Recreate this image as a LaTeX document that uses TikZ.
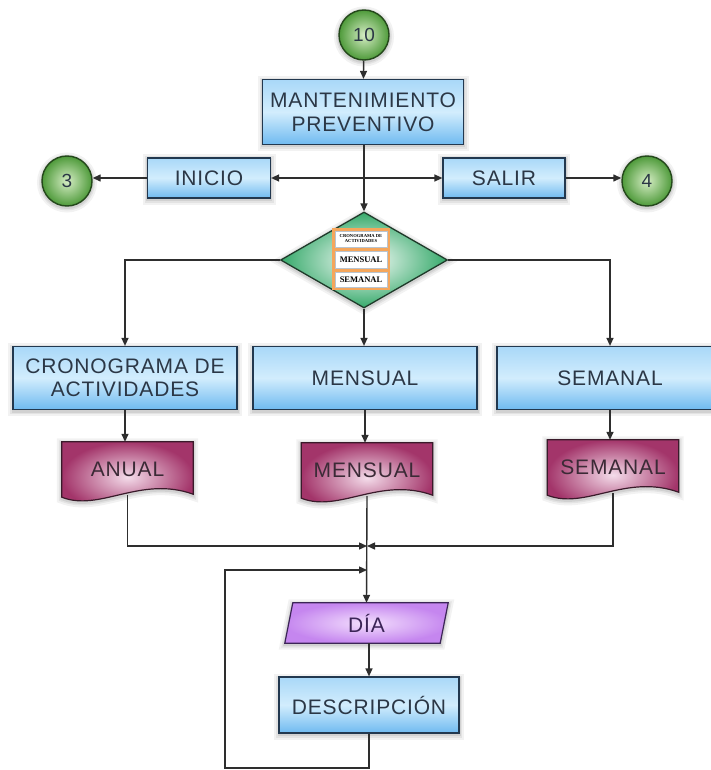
\documentclass[tikz,border=0pt]{standalone}
\usepackage{fontspec}
\setmainfont[LetterSpace=4]{Liberation Sans}
\newfontfamily\smallserif{Liberation Serif}
\usetikzlibrary{arrows.meta,shapes.geometric,backgrounds}

\definecolor{linec}{HTML}{2E2E2E}
\definecolor{txt}{HTML}{2B3746}
\definecolor{boxedge}{HTML}{22384F}
\definecolor{bluetop}{HTML}{A9D8F8}
\definecolor{bluemid}{HTML}{D2EDFD}
\definecolor{bluebot}{HTML}{6FBAF0}
\definecolor{greenin}{HTML}{D5EDC4}
\definecolor{greenout}{HTML}{4E9A3A}
\definecolor{greenedge}{HTML}{24481B}
\definecolor{diaout}{HTML}{35A96A}
\definecolor{diaedge}{HTML}{1F3A2A}
\definecolor{docin}{HTML}{F4DCEA}
\definecolor{docout}{HTML}{A3356A}
\definecolor{docedge}{HTML}{3A1A2A}
\definecolor{doctxt}{HTML}{3B2A36}
\definecolor{parin}{HTML}{F3DFFD}
\definecolor{parout}{HTML}{C586EF}
\definecolor{paredge}{HTML}{3B2456}
\definecolor{orangec}{HTML}{F5A65B}
\definecolor{subedge}{HTML}{B8C4D0}

\begin{document}
\begin{tikzpicture}[x=1pt,y=-1pt,
  % soft halo under each shape, built from a few translucent strokes
  softshadow/.style={
      preaction={draw=black,draw opacity=0.05,line width=10pt,transform canvas={yshift=-1.5pt}},
      preaction={draw=black,draw opacity=0.06,line width=6pt,transform canvas={yshift=-1.5pt}},
      preaction={draw=black,draw opacity=0.08,line width=3pt,transform canvas={yshift=-1.5pt}}},
  procbox/.style={rectangle,draw=boxedge,line width=1.2pt,
      top color=bluetop,bottom color=bluebot,middle color=bluemid,
      text=txt,font=\fontsize{21}{24}\selectfont,align=center,inner sep=0pt,
      softshadow},
  conn/.style={circle,draw=greenedge,line width=1.4pt,
      inner color=greenin,outer color=greenout,minimum size=50pt,inner sep=0pt,
      text=txt,font=\fontsize{19}{19}\selectfont,softshadow},
  decision/.style={diamond,draw=diaedge,line width=1.3pt,
      inner color=white,outer color=diaout,inner sep=0pt,
      minimum width=167pt,minimum height=96pt,softshadow},
  docbox/.style={rectangle,inner sep=0pt,minimum width=131pt,minimum height=55pt,
      text=doctxt,font=\fontsize{21}{24}\selectfont},
  docfill/.style={draw=docedge,line width=1.2pt,inner color=docin,outer color=docout,
      softshadow},
  iobox/.style={rectangle,inner sep=0pt,minimum width=155pt,minimum height=40pt,
      text=paredge,font=\fontsize{21}{24}\selectfont},
  iofill/.style={draw=paredge,line width=1.2pt,inner color=parin,outer color=parout,
      softshadow},
  stackframe/.style={rectangle,fill=orangec,inner sep=0pt,minimum width=58pt,
      minimum height=62pt},
  stackitem/.style={rectangle,fill=white,draw=subedge,line width=0.4pt,inner sep=0pt,
      minimum width=52pt,text=black,align=center},
  wire/.style={draw=linec,line width=1.4pt},
  arr/.style={wire,-{Triangle[length=8pt,width=7pt]}},
]
\useasboundingbox (0,0) rectangle (711,770);
\clip (0,0) rectangle (711,770);
\begin{pgfonlayer}{background}
  \fill[white] (0,0) rectangle (711,770);
\end{pgfonlayer}

% ---- top part
\node[conn] (c10) at (364,35) {10};
\node[procbox,minimum width=201pt,minimum height=65pt] (mant) at (363,112)
  {MANTENIMIENTO\\PREVENTIVO};
\node[procbox,minimum width=123pt,minimum height=40pt] (inicio) at (209,178) {INICIO};
\node[procbox,minimum width=122pt,minimum height=40pt] (salir) at (504,178) {SALIR};
\node[conn] (c3) at (67,181) {3};
\node[conn] (c4) at (647,181) {4};
\coordinate (jtop) at (364,178);

% ---- decision with its option list
\node[decision] (dia) at (364,260) {};
\node[stackframe] (stack) at (361,259) {};
\node[stackitem,minimum height=16pt,
  font=\smallserif\bfseries\fontsize{4.6}{5}\selectfont] (opt1) at (361,239)
  {CRONOGRAMA DE\\ACTIVIDADES};
\node[stackitem,minimum height=17pt,
  font=\smallserif\bfseries\fontsize{8.5}{9}\selectfont] (opt2) at (361,259.5) {MENSUAL};
\node[stackitem,minimum height=15pt,
  font=\smallserif\bfseries\fontsize{8.5}{9}\selectfont] (opt3) at (361,279.5) {SEMANAL};

% ---- three branches
\node[procbox,minimum width=224pt,minimum height=63pt,font=\fontsize{21}{23}\selectfont]
  (crono) at (125,378) {CRONOGRAMA DE\\ACTIVIDADES};
\node[procbox,minimum width=224pt,minimum height=63pt] (mensb) at (365,378) {MENSUAL};
\node[procbox,minimum width=226pt,minimum height=63pt] (semb) at (610,378) {SEMANAL};

\node[docbox] (anual) at (127.5,469.5) {ANUAL};
\node[docbox] (mensd) at (367,470.5) {MENSUAL};
\node[docbox] (semd) at (613,467.5) {SEMANAL};

% ---- daily record
\node[iobox] (dia2) at (366.5,623) {DÍA};
\node[procbox,minimum width=180pt,minimum height=56pt] (desc) at (369,705) {DESCRIPCIÓN};

\begin{pgfonlayer}{background}
  \foreach \n in {anual,mensd,semd}{
    \path[docfill] (\n.north west) -- (\n.north east) -- ([yshift=3pt]\n.south east)
      .. controls ([xshift=-53pt,yshift=22pt]\n.south east)
             and ([xshift=38pt,yshift=-15pt]\n.south west) .. (\n.south west) -- cycle;
  }
  \path[iofill] ([xshift=4pt]dia2.north west) -- ([xshift=4pt]dia2.north east)
    -- ([xshift=-4pt]dia2.south east) -- ([xshift=-4pt]dia2.south west) -- cycle;
\end{pgfonlayer}

% ---- connectors
\draw[arr] (c10) -- (mant);
\draw[arr] (mant.south -| dia.north) -- (dia.north);
\draw[arr] (jtop) -- (inicio.east);
\draw[arr] (jtop) -- (salir.west);
\draw[arr] (inicio.west) -- (c3.east |- inicio.west);
\draw[arr] (salir.east) -- (c4.west |- salir.east);
\draw[arr] (dia.west) -| (crono.north);
\draw[arr] (dia.east) -| (semb.north);
\draw[arr] (dia.south) -- (dia.south |- mensb.north);
\draw[arr] (crono.south) -- (crono.south |- anual.north);
\draw[arr] (mensb.south) -- (mensb.south |- mensd.north);
\draw[arr] (semb.south) -- (semb.south |- semd.north);

\coordinate (merge) at (367,546);
\coordinate (loopin) at (367,570);
\coordinate (loopbl) at (225,768);
\draw[arr] ([yshift=2pt]anual.south) |- (merge);
\draw[arr] ([yshift=2pt]semd.south) |- (merge);
\draw[arr] ([yshift=2pt]mensd.south) -- (dia2.north);
\draw[arr] (dia2.south -| desc.north) -- (desc.north);
\draw[arr] (desc.south) |- (loopbl) |- (loopin);
\end{tikzpicture}
\end{document}
